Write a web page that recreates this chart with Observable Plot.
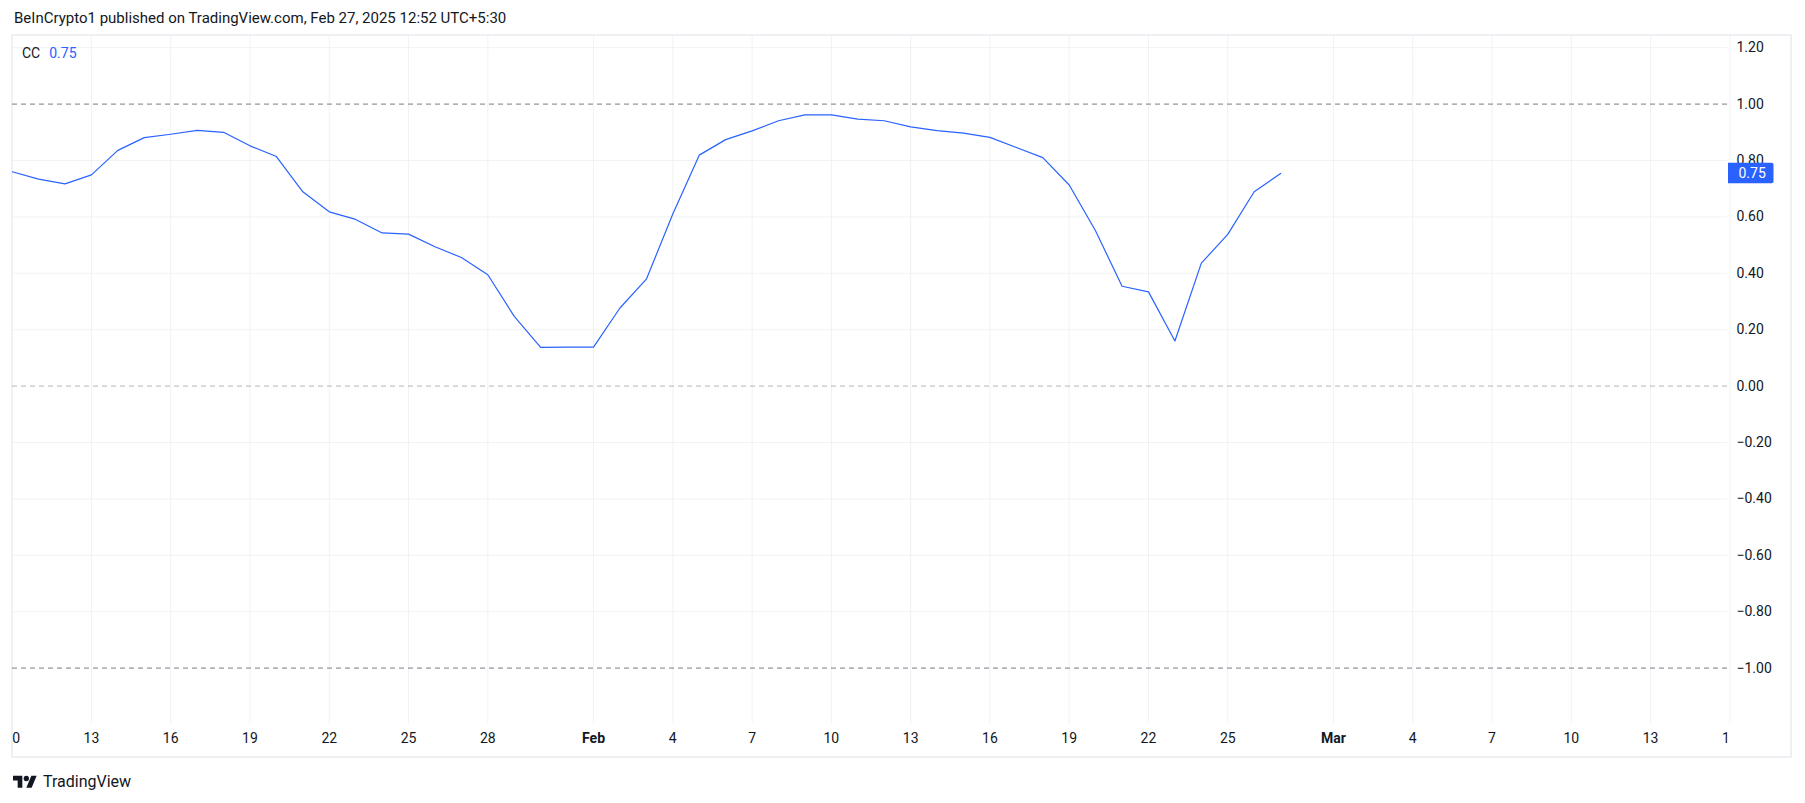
<!DOCTYPE html>
<html><head><meta charset="utf-8">
<script src="https://cdn.jsdelivr.net/npm/d3@7"></script>
<script src="https://cdn.jsdelivr.net/npm/@observablehq/plot@0.6"></script>
<style>
body{margin:0;background:#fff;font-family:Roboto,"Noto Sans",sans-serif;color:#131722;}
#wrap{position:relative;width:1805px;height:803px;overflow:hidden;background:#fff;}
#hdr{position:absolute;left:14px;top:8px;font-size:15px;line-height:20px;white-space:nowrap;color:#131722;}
#pane{position:absolute;left:11px;top:34px;width:1781px;height:724px;box-sizing:border-box;border:2px solid #eef0f3;}
#chart{position:absolute;left:0;top:34px;}
#legend{position:absolute;left:22px;top:44px;font-size:14px;line-height:18px;white-space:nowrap;}
#legend .v{color:#2962ff;margin-left:9px;}
#logo{position:absolute;left:13px;top:771px;height:20px;display:flex;align-items:center;font-size:16px;color:#131722;}
#logo svg{margin-right:6px;}
</style></head>
<body>
<div id="wrap">
  <div id="hdr">BeInCrypto1 published on TradingView.com, Feb 27, 2025 12:52 UTC+5:30</div>
  <div id="pane"></div>
  <div id="chart"></div>
  <div id="legend"><span>CC</span><span class="v" id="legval"></span></div>
  <div id="logo"><svg width="24" height="13" viewBox="0 3 36 19"><path d="M14 22H7V11H0V4h14v18z M28 22h-8l7.5-18h8L28 22z" fill="#131722"/><circle cx="20" cy="8" r="4" fill="#131722"/></svg><span>TradingView</span></div>
</div>
<script>
const dates = ["2025-01-10","2025-01-11","2025-01-12","2025-01-13","2025-01-14","2025-01-15","2025-01-16","2025-01-17","2025-01-18","2025-01-19","2025-01-20","2025-01-21","2025-01-22","2025-01-23","2025-01-24","2025-01-25","2025-01-26","2025-01-27","2025-01-28","2025-01-29","2025-01-30","2025-01-31","2025-02-01","2025-02-02","2025-02-03","2025-02-04","2025-02-05","2025-02-06","2025-02-07","2025-02-08","2025-02-09","2025-02-10","2025-02-11","2025-02-12","2025-02-13","2025-02-14","2025-02-15","2025-02-16","2025-02-17","2025-02-18","2025-02-19","2025-02-20","2025-02-21","2025-02-22","2025-02-23","2025-02-24","2025-02-25","2025-02-26","2025-02-27"];
const cc = [0.760,0.734,0.717,0.749,0.836,0.881,0.893,0.907,0.900,0.852,0.814,0.689,0.618,0.591,0.543,0.539,0.494,0.456,0.395,0.247,0.137,0.138,0.138,0.277,0.379,0.610,0.819,0.874,0.905,0.941,0.962,0.962,0.947,0.941,0.919,0.906,0.897,0.882,0.846,0.810,0.713,0.550,0.354,0.334,0.160,0.436,0.538,0.689,0.754];
const tickDates = ["2025-01-10","2025-01-13","2025-01-16","2025-01-19","2025-01-22","2025-01-25","2025-01-28","2025-02-01","2025-02-04","2025-02-07","2025-02-10","2025-02-13","2025-02-16","2025-02-19","2025-02-22","2025-02-25","2025-03-01","2025-03-04","2025-03-07","2025-03-10","2025-03-13","2025-03-16"];
const tickLabels = ["10","13","16","19","22","25","28","Feb","4","7","10","13","16","19","22","25","Mar","4","7","10","13","16"];
const yTicks = [1.2,1.0,0.8,0.6,0.4,0.2,0,-0.2,-0.4,-0.6,-0.8,-1.0];
const gridY = [1.2,0.8,0.6,0.4,0.2,-0.2,-0.4,-0.6,-0.8];
const bandOuter = [1,-1];
const bandMid = [0];

const parse = s => new Date(s + "T00:00:00Z");
const data = dates.map((d,i) => ({date: parse(d), value: cc[i]}));
const ticks = tickDates.map((d,i) => ({date: parse(d), label: tickLabels[i], bold: isNaN(+tickLabels[i])}));
const fmt = v => (v < 0 ? "\u2212" : "") + Math.abs(v).toFixed(2);
const last = data[data.length-1];
const ink = "#131722";
const grid = "#f0f2f5";

const chart = Plot.plot({
  width: 1805, height: 724,
  marginLeft: 12, marginRight: 78, marginTop: 0, marginBottom: 35,
  style: {background: "transparent", fontFamily: "Roboto, 'Noto Sans', sans-serif", overflow: "visible"},
  x: {type: "utc", domain: [new Date("2025-01-10T00:20:00Z"), new Date("2025-03-15T21:50:00Z")], axis: null},
  y: {domain: [-1.1965, 1.2468], axis: null, label: null},
  marks: [
    Plot.ruleY(gridY, {stroke: grid, strokeWidth: 1}),
    Plot.ruleX(ticks, {x: "date", stroke: grid, strokeWidth: 1}),
    Plot.ruleY(bandMid, {stroke: "#787b86", strokeOpacity: 0.55, strokeDasharray: "5 4"}),
    Plot.ruleY(bandOuter, {stroke: "#787b86", strokeDasharray: "5 4"}),
    Plot.line(data, {x: "date", y: "value", stroke: "#2962ff", strokeWidth: 1.2, clip: true}),
    Plot.axisY(yTicks, {anchor: "right", tickSize: 0, tickPadding: 9, tickFormat: fmt, fontSize: 14, fill: ink, textAnchor: "start", label: null}),
    Plot.text(ticks.filter(t => !t.bold), {x: "date", text: "label", frameAnchor: "bottom", dy: 19, fontSize: 14, fill: ink}),
    Plot.text(ticks.filter(t => t.bold), {x: "date", text: "label", frameAnchor: "bottom", dy: 19, fontSize: 14, fontWeight: "bold", fill: ink}),
    Plot.text([last], {y: "value", frameAnchor: "right", dx: 11, textAnchor: "start", fill: "white", fontSize: 14, text: d => fmt(d.value)})
  ]
});
document.getElementById("chart").appendChild(chart);
document.getElementById("legval").textContent = fmt(last.value);

// clip the time-axis labels to the pane width
const ns = "http://www.w3.org/2000/svg";
const defs = document.createElementNS(ns, "defs");
const cp = document.createElementNS(ns, "clipPath");
cp.setAttribute("id", "xclip");
const cr = document.createElementNS(ns, "rect");
cr.setAttribute("x", 12); cr.setAttribute("y", 0); cr.setAttribute("width", 1715); cr.setAttribute("height", 724);
cp.appendChild(cr); defs.appendChild(cp); chart.insertBefore(defs, chart.firstChild);
const textGroups = chart.querySelectorAll('g[aria-label="text"]');
textGroups[0].setAttribute("clip-path", "url(#xclip)");
textGroups[1].setAttribute("clip-path", "url(#xclip)");

// last value badge behind the label
const yS = chart.scale("y");
const cy = yS.apply(last.value);
const badge = document.createElementNS(ns, "path");
const bx = 1728, bw = 45.5, bh = 20.5, by = cy - bh/2, r = 2;
badge.setAttribute("d", `M${bx},${by}H${bx+bw-r}Q${bx+bw},${by} ${bx+bw},${by+r}V${by+bh-r}Q${bx+bw},${by+bh} ${bx+bw-r},${by+bh}H${bx}Z`);
badge.setAttribute("fill", "#2962ff");
const lastText = textGroups[2];
lastText.parentNode.insertBefore(badge, lastText);
</script>
</body></html>
